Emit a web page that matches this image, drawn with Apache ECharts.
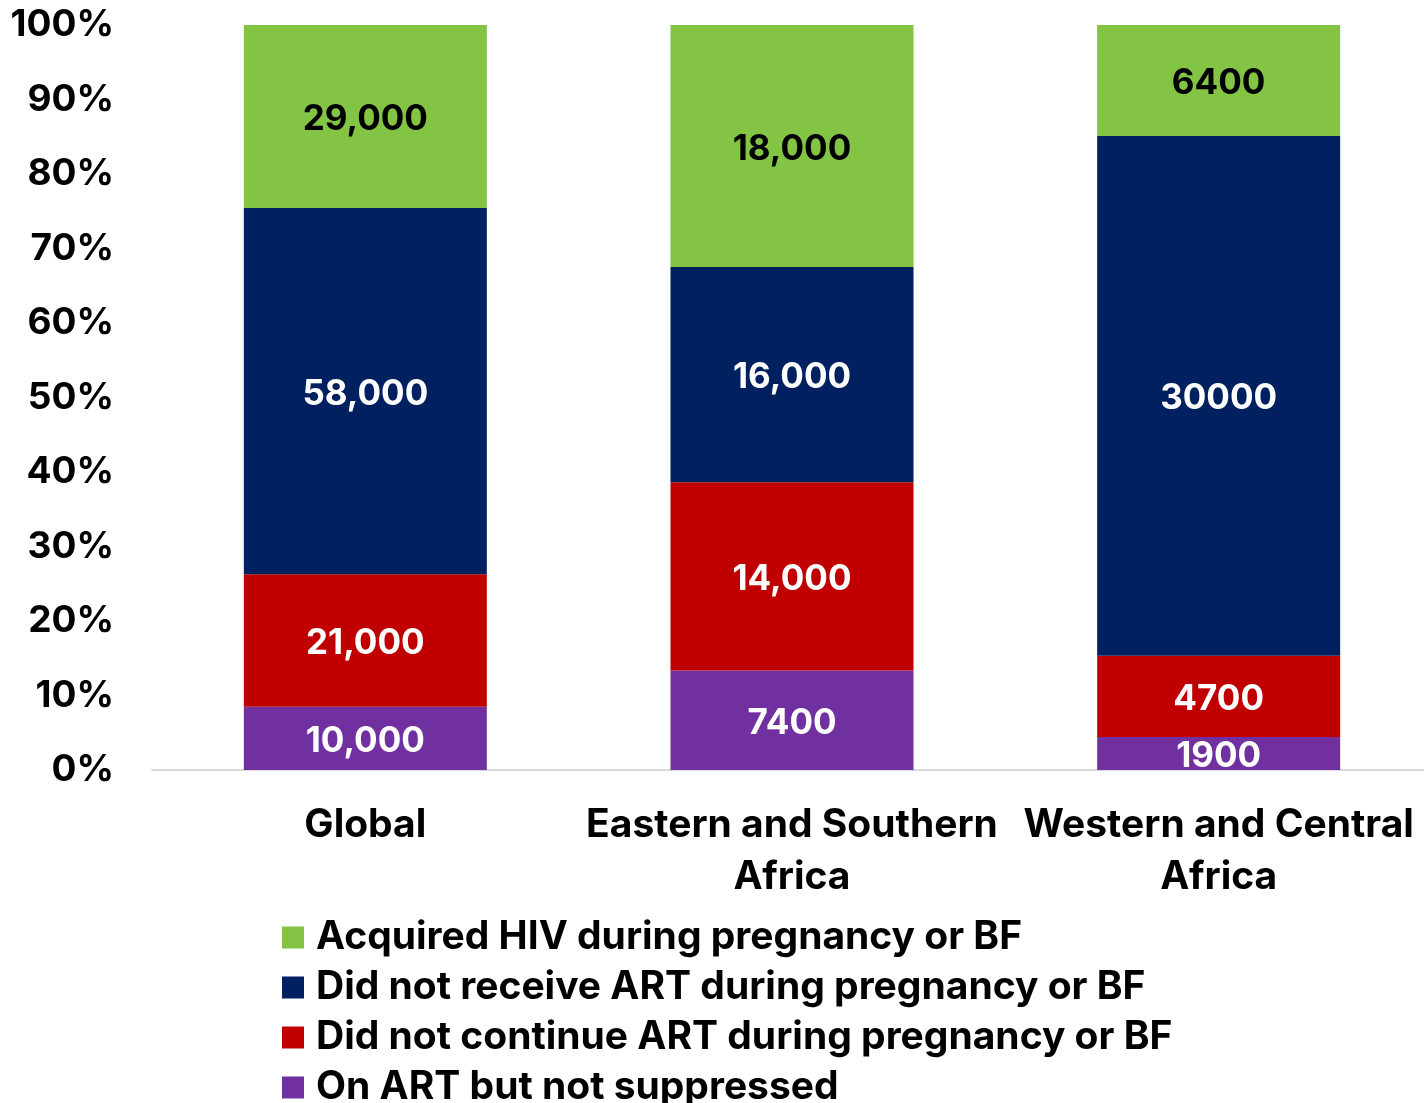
<!DOCTYPE html>
<html>
<head>
<meta charset="utf-8">
<script src="https://cdn.jsdelivr.net/npm/echarts@6/dist/echarts.min.js"></script>
<style>
html,body{margin:0;padding:0;background:#fff;}
#c{width:1424px;height:1103px;}
</style>
</head>
<body>
<div id="c"></div>
<script>
var categories = ['Global', 'Eastern and Southern\nAfrica', 'Western and Central\nAfrica'];
var yTickLabels = ['0%','10%','20%','30%','40%','50%','60%','70%','80%','90%','100%'];

var seriesNames = [
  'On ART but not suppressed',
  'Did not continue ART during pregnancy or BF',
  'Did not receive ART during pregnancy or BF',
  'Acquired HIV during pregnancy or BF'
];
var onArtNotSuppressed = [10000, 7400, 1900];
var didNotContinue = [21000, 14000, 4700];
var didNotReceive = [58000, 16000, 30000];
var acquired = [29000, 18000, 6400];

var onArtLabels = ['10,000', '7400', '1900'];
var didNotContinueLabels = ['21,000', '14,000', '4700'];
var didNotReceiveLabels = ['58,000', '16,000', '30000'];
var acquiredLabels = ['29,000', '18,000', '6400'];

var colors = ['#7030A0', '#C00000', '#002060', '#84C444'];
var labelColors = ['#ffffff', '#ffffff', '#ffffff', '#000000'];

var raw = [onArtNotSuppressed, didNotContinue, didNotReceive, acquired];
var labels = [onArtLabels, didNotContinueLabels, didNotReceiveLabels, acquiredLabels];
var totals = categories.map(function(_, i){
  return raw.reduce(function(s, arr){ return s + arr[i]; }, 0);
});

var FONT = 'Inter';
var series = raw.map(function(arr, k){
  return {
    name: seriesNames[k],
    type: 'bar',
    stack: 'total',
    barWidth: 243,
    data: arr.map(function(v, i){ return v / totals[i] * 100; }),
    itemStyle: { color: colors[k] },
    label: {
      show: true,
      position: 'inside',
      offset: [0, 3],
      color: labelColors[k],
      fontFamily: FONT,
      fontWeight: 'bold',
      fontSize: 35,
      formatter: function(p){ return labels[k][p.dataIndex]; }
    },
    emphasis: { disabled: true }
  };
});

var chart = echarts.init(document.getElementById('c'), null, {renderer: 'canvas'});
chart.setOption({
  animation: false,
  backgroundColor: '#ffffff',
  grid: { left: 152, width: 1280, top: 25, bottom: 333, containLabel: false, outerBoundsMode: 'none' },
  legend: {
    orient: 'vertical',
    left: 277,
    top: 913,
    height: 400,
    itemWidth: 22,
    itemHeight: 22,
    itemGap: 11,
    icon: 'rect',
    data: seriesNames.slice().reverse(),
    textStyle: { fontFamily: FONT, fontWeight: 'bold', fontSize: 39, color: '#000', padding: [0,0,0,7] }
  },
  xAxis: {
    type: 'category',
    data: categories,
    axisLine: { show: true, lineStyle: { color: '#D9D9D9', width: 2 } },
    axisTick: { show: false },
    axisLabel: {
      interval: 0,
      margin: 29,
      fontFamily: FONT,
      fontWeight: 'bold',
      fontSize: 39,
      lineHeight: 52,
      color: '#000'
    }
  },
  yAxis: {
    type: 'value',
    min: 0,
    max: 100,
    interval: 10,
    axisLine: { show: false },
    axisTick: { show: false },
    splitLine: { show: false },
    axisLabel: {
      margin: 38,
      fontFamily: FONT,
      fontWeight: 'bold',
      fontSize: 37,
      color: '#000',
      formatter: function(v){ return yTickLabels[Math.round(v / 10)]; }
    }
  },
  series: series
});
</script>
</body>
</html>
